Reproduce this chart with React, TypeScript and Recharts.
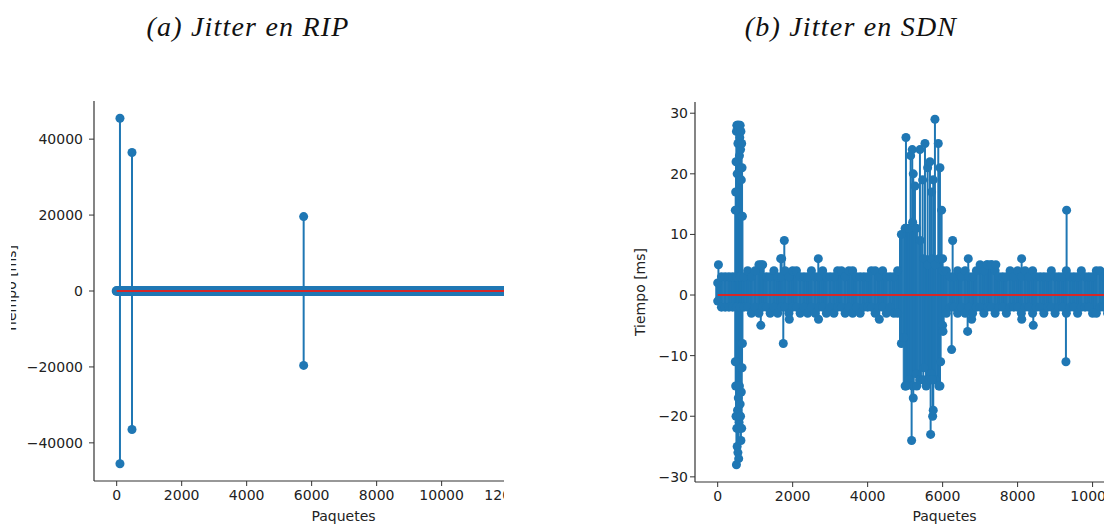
import React from 'react';
import { ComposedChart, ScatterChart, Scatter, Bar, XAxis, YAxis, ErrorBar, Label } from 'recharts';

const BLUE = '#1f77b4';
const RED = '#d62728';
const AXIS = '#333333';
const TEXT = '#222222';
const FONT = "'DejaVu Sans', Verdana, sans-serif";
const SERIF = "'Liberation Serif', 'Times New Roman', serif";

// (a) Jitter en RIP
const ripPackets = 13960;
const ripSpikeX = [101, 101, 471, 471, 5754, 5754];
const ripSpikeY = [45500, -45500, 36500, -36500, 19600, -19600];
const ripXTicks = [0, 2000, 4000, 6000, 8000, 10000, 12000, 14000];
const ripYTicks = [-40000, -20000, 0, 20000, 40000];

// (b) Jitter en SDN
const sdnPackets = 12100;
const sdnBin = 100; // one column per 100 packets for the dense band
const sdnHigh = [
  2, 3, 3, 3, 3, 3, 3, 3, 4, 3,
  4, 5, 5, 3, 3, 4, 3, 3, 4, 3,
  4, 4, 3, 3, 3, 4, 3, 3, 4, 3,
  3, 3, 4, 4, 3, 4, 4, 3, 3, 3,
  3, 4, 4, 3, 4, 3, 3, 3, 4, 10,
  11, 11, 12, 11, 9, 6, 5, 6, 5, 6,
  4, 4, 3, 3, 4, 3, 4, 3, 3, 4,
  5, 4, 5, 5, 4, 3, 3, 3, 4, 3,
  4, 3, 4, 3, 4, 3, 3, 3, 3, 4,
  3, 3, 3, 4, 3, 3, 3, 4, 3, 3,
  3, 4, 4, 3, 3, 4, 3, 3, 4, 3,
  3, 4, 3, 3, 3, 4, 3, 3, 3, 4,
  3, 3,
];
const sdnLow = [
  -1, -2, -2, -2, -2, -2, -2, -2, -2, -3,
  -2, -3, -2, -2, -3, -2, -3, -2, -2, -3,
  -2, -2, -3, -2, -3, -2, -3, -2, -2, -3,
  -2, -3, -2, -2, -3, -2, -3, -2, -3, -2,
  -2, -2, -3, -2, -2, -3, -2, -3, -3, -8,
  -15, -14, -15, -13, -14, -12, -14, -13, -14, -15,
  -5, -3, -2, -2, -3, -2, -3, -2, -3, -2,
  -2, -3, -2, -2, -3, -2, -2, -3, -2, -2,
  -2, -3, -2, -2, -3, -2, -2, -3, -2, -2,
  -3, -2, -2, -3, -2, -2, -3, -2, -2, -2,
  -3, -3, -2, -2, -3, -2, -2, -3, -2, -2,
  -3, -2, -2, -3, -2, -2, -3, -2, -2, -3,
  -2, -2,
];
// first burst (packets ~470-660)
const burstX = [470, 480, 490, 500, 510, 520, 530, 540, 550, 560, 570, 580, 590, 600, 610, 620, 630, 640, 650, 660];
const burstHigh = [14, 17, 22, 27, 28, 20, 28, 25, 28, 27, 28, 23, 26, 28, 24, 27, 19, 25, 21, 13];
const burstLow = [-11, -15, -20, -28, -22, -25, -19, -26, -17, -27, -21, -15, -22, -18, -20, -24, -16, -22, -12, -8];
// isolated stems
const sdnSpikeX = [
  20, 1160, 1150, 1680, 1707, 1750, 1777, 1910, 2684, 2690,
  4311, 4960, 5022, 5022, 5147, 5173, 5190, 5217, 5217, 5262,
  5310, 5390, 5395, 5467, 5484, 5529, 5560, 5600, 5640, 5662,
  5680, 5707, 5720, 5734, 5750, 5750, 5795, 5884, 5929, 5929,
  5947, 5973, 6000, 6010, 6240, 6267, 6667, 6684, 6774, 7180,
  7300, 7420, 8107, 8110, 8418, 9289, 9307,
];
const sdnSpikeY = [
  5, 5, -5, 6, 6, -8, 9, -4, 6, -4,
  -4, -7, 26, -15, 23, -24, 24, 20, -17, 18,
  -15, -14, 24, 19, -14, 25, -15, 21, -14, 22,
  -23, 17, -14, -20, 19, -19, 29, 25, 21, -15,
  -11, 14, 6, -6, -9, 9, -6, 6, -4, 5,
  5, 5, 6, -4, -5, -11, 14,
];
const sdnXTicks = [0, 2000, 4000, 6000, 8000, 10000, 12000];
const sdnYTicks = [-30, -20, -10, 0, 10, 20, 30];

const stems = (xs: number[], ys: number[]) =>
  xs.map((x, i) => ({ x, y: ys[i], err: ys[i] >= 0 ? [ys[i], 0] : [0, -ys[i]] }));
const columns = (xs: number[], hi: number[], lo: number[]) =>
  xs.map((x, i) => ({ x, y: hi[i], err: [hi[i] - lo[i], 0] }));
const points = (xs: number[], ys: number[]) => xs.map((x, i) => ({ x, y: ys[i] }));
const ranges = (xs: number[], hi: number[], lo: number[]) =>
  xs.map((x, i) => ({ x, range: [lo[i], hi[i]] }));

const fmt = (v: number) => (v < 0 ? `\u2212${Math.abs(v)}` : `${v}`);
const tickStyle = { fill: TEXT, fontSize: 14, fontFamily: FONT };

const sdnBinX = sdnHigh.map((_, i) => i * sdnBin);
const sdnBand = ranges(sdnBinX, sdnHigh, sdnLow);
const sdnXDomain = [-605, 12705];

export default function App() {
  return (
    <div style={{ position: 'absolute', left: 0, top: 0, width: 1104, height: 524, background: '#fff', overflow: 'hidden' }}>
      <div style={{ position: 'absolute', left: 0, top: 0, width: 504, height: 524, overflow: 'hidden' }}>
        <ScatterChart width={593} height={524} margin={{ top: 101, right: 0, bottom: 0, left: 0 }}>
          <XAxis type="number" dataKey="x" domain={[-698, 14658]} ticks={ripXTicks} allowDataOverflow interval={0}
            tickFormatter={fmt} tick={tickStyle} tickSize={5} tickMargin={4} height={43}
            tickLine={{ stroke: AXIS }} axisLine={{ stroke: AXIS, strokeWidth: 1.2 }}>
            <Label value="Paquetes" position="insideBottom" offset={3} fill={TEXT} fontSize={14} fontFamily={FONT} />
          </XAxis>
          <XAxis xAxisId="top" orientation="top" type="number" domain={[0, 1]} height={0}
            tick={false} tickLine={false} axisLine={{ stroke: AXIS, strokeWidth: 1.2 }} />
          <YAxis type="number" dataKey="y" domain={[-50050, 50050]} ticks={ripYTicks} allowDataOverflow interval={0}
            width={94} tickFormatter={fmt} tick={tickStyle} tickSize={5} tickMargin={6}
            tickLine={{ stroke: AXIS }} axisLine={{ stroke: AXIS, strokeWidth: 1.2 }} />
          <Scatter data={points([0, ripPackets], [0, 0])} fill={BLUE} isAnimationActive={false}
            line={{ stroke: BLUE, strokeWidth: 10, strokeLinecap: 'round' }} />
          <Scatter data={stems(ripSpikeX, ripSpikeY)} fill={BLUE} isAnimationActive={false}>
            <ErrorBar dataKey="err" direction="y" width={0} stroke={BLUE} strokeWidth={2} isAnimationActive={false} />
          </Scatter>
          <Scatter data={points([0, ripPackets], [0, 0])} fill="none" isAnimationActive={false}
            line={{ stroke: RED, strokeWidth: 2 }} />
        </ScatterChart>
      </div>

      <div style={{ position: 'absolute', left: 600, top: 0, width: 504, height: 524, overflow: 'hidden' }}>
        <ComposedChart width={594} height={524} data={sdnBand} margin={{ top: 102, right: 0, bottom: 0, left: 0 }}>
          <XAxis type="number" dataKey="x" domain={sdnXDomain} ticks={sdnXTicks} allowDataOverflow interval={0}
            tickFormatter={fmt} tick={tickStyle} tickSize={5} tickMargin={4} height={42}
            tickLine={{ stroke: AXIS }} axisLine={{ stroke: AXIS, strokeWidth: 1.2 }}>
            <Label value="Paquetes" position="insideBottom" offset={3} fill={TEXT} fontSize={14} fontFamily={FONT} />
          </XAxis>
          <XAxis xAxisId="band" type="number" dataKey="x" domain={sdnXDomain} allowDataOverflow hide />
          <XAxis xAxisId="top" orientation="top" type="number" domain={[0, 1]} height={0}
            tick={false} tickLine={false} axisLine={{ stroke: AXIS, strokeWidth: 1.2 }} />
          <YAxis type="number" domain={[-30.85, 31.85]} ticks={sdnYTicks} allowDataOverflow interval={0}
            width={95} tickFormatter={fmt} tick={tickStyle} tickSize={5} tickMargin={2}
            tickLine={{ stroke: AXIS }} axisLine={{ stroke: AXIS, strokeWidth: 1.2 }} />
          <Bar xAxisId="band" dataKey="range" barSize={4} fill={BLUE} stroke={BLUE} strokeWidth={1}
            isAnimationActive={false} />
          <Scatter data={points(sdnBinX, sdnHigh)} dataKey="y" fill={BLUE} isAnimationActive={false} />
          <Scatter data={points(sdnBinX, sdnLow)} dataKey="y" fill={BLUE} isAnimationActive={false} />
          <Scatter data={columns(burstX, burstHigh, burstLow)} dataKey="y" fill={BLUE} isAnimationActive={false}>
            <ErrorBar dataKey="err" direction="y" width={0} stroke={BLUE} strokeWidth={2} isAnimationActive={false} />
          </Scatter>
          <Scatter data={points(burstX, burstLow)} dataKey="y" fill={BLUE} isAnimationActive={false} />
          <Scatter data={stems(sdnSpikeX, sdnSpikeY)} dataKey="y" fill={BLUE} isAnimationActive={false}>
            <ErrorBar dataKey="err" direction="y" width={0} stroke={BLUE} strokeWidth={2} isAnimationActive={false} />
          </Scatter>
          <Scatter data={points([0, sdnPackets], [0, 0])} dataKey="y" fill="none" isAnimationActive={false}
            line={{ stroke: RED, strokeWidth: 2 }} />
        </ComposedChart>
      </div>

      <svg width={1104} height={524} style={{ position: 'absolute', left: 0, top: 0, pointerEvents: 'none' }}>
        <defs>
          <clipPath id="cut-left">
            <rect x={11} y={0} width={40} height={524} />
          </clipPath>
        </defs>
        <text x={248} y={36} textAnchor="middle" fontFamily={SERIF} fontStyle="italic" fontSize={28}
          letterSpacing={1.2} fill="#111">(a) Jitter en RIP</text>
        <text x={851} y={36} textAnchor="middle" fontFamily={SERIF} fontStyle="italic" fontSize={28}
          letterSpacing={1.2} fill="#111">(b) Jitter en SDN</text>
        <g clipPath="url(#cut-left)">
          <text x={16} y={289} transform="rotate(-90 16 289)" textAnchor="middle" fontFamily={FONT}
            fontSize={14} fill={TEXT}>Tiempo [ms]</text>
        </g>
        <text x={645} y={292} transform="rotate(-90 645 292)" textAnchor="middle" fontFamily={FONT}
          fontSize={14} fill={TEXT}>Tiempo [ms]</text>
      </svg>
    </div>
  );
}
